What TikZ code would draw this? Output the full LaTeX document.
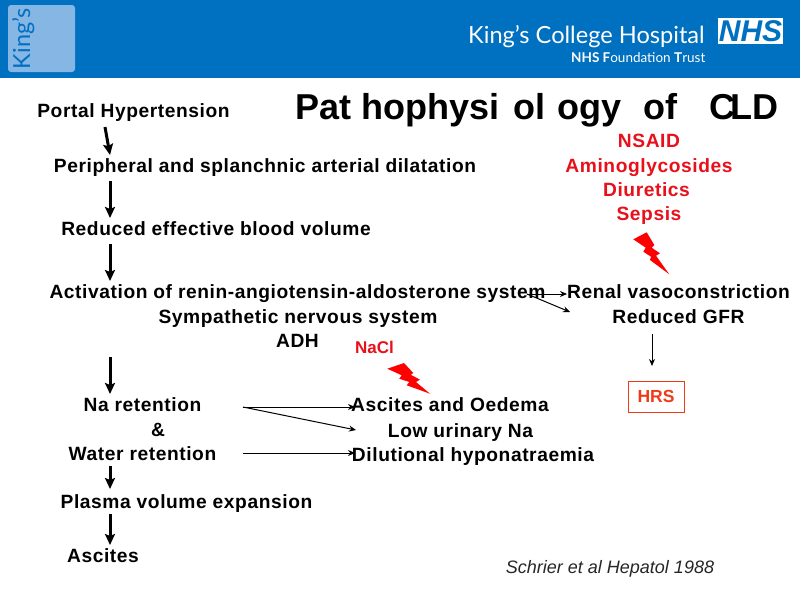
\documentclass[tikz,border=0pt]{standalone}
\usepackage{fontspec}
\setmainfont{Liberation Sans}
\newfontfamily\spaced[LetterSpace=3]{Liberation Sans}
\newfontfamily\logofont{Lato}
\definecolor{hdr}{HTML}{0070C0}
\definecolor{sq}{HTML}{85B6E4}
\definecolor{red1}{HTML}{E8101A}
\definecolor{orng}{HTML}{F03A17}
\tikzset{
  lbl/.style={anchor=base,inner sep=0pt,yshift=-.5pt,font=\spaced\bfseries\fontsize{19.2}{21}\selectfont,text=black},
  redlbl/.style={lbl,text=red1},
  big/.style={-{Stealth[length=11pt,width=10pt,inset=2pt]},line width=3pt,black},
  thin/.style={-{Stealth[length=7pt,width=6pt]},line width=1pt,black},
  bolt/.style={fill=red,draw=none},
}
\usetikzlibrary{arrows.meta}
\begin{document}
\begin{tikzpicture}[x=1pt,y=-1pt]
\useasboundingbox (0,0) rectangle (800,600);
\fill[white] (0,0) rectangle (800,600);
\fill[hdr] (0,0) rectangle (800,78);
\fill[sq,rounded corners=3pt] (8,5) rectangle (75,72);
\node[rotate=90,anchor=base,inner sep=0pt,text=hdr,font=\logofont\fontsize{23.5}{26}\selectfont] (kings) at (30,38.5) {King’s};
\node[anchor=base west,inner sep=0pt,text=white,font=\logofont\fontsize{23.6}{25}\selectfont] (kch) at (468,43) {King’s College Hospital};
\node[anchor=base west,inner sep=0pt,text=white,font=\logofont\fontsize{13.5}{15}\selectfont] (trust) at (571,62) {\textbf{NHS F}oundation \textbf{T}rust};
\node[fill=white,minimum width=65pt,minimum height=26pt,inner sep=0pt,text=hdr,font=\bfseries\itshape\fontsize{30}{30}\selectfont] (nhs) at (750.5,31) {NHS};

\node[anchor=base west,inner sep=0pt,font=\bfseries\fontsize{36}{38}\selectfont] (title) at (295,119.5)
 {Pat\kern10pt hophysi\kern14pt ol\kern12pt ogy\kern22pt of\kern32pt C\kern-5pt LD};

\node[lbl] (portal) at (133.5,117) {Portal Hypertension};
\node[lbl] (periph) at (265,172) {Peripheral and splanchnic arterial dilatation};
\node[lbl] (reduced) at (216,235) {Reduced effective blood volume};
\node[lbl] (activ) at (297.5,298) {Activation of renin-angiotensin-aldosterone system};
\node[lbl] (symp) at (298,323) {Sympathetic nervous system};
\node[lbl] (adh) at (297.5,347) {ADH};
\node[lbl] (na) at (142.5,411) {Na retention};
\node[lbl] (amp) at (158,436) {\&};
\node[lbl] (water) at (142.5,460) {Water retention};
\node[lbl] (plasma) at (186.5,508) {Plasma volume expansion};
\node[lbl] (asc) at (103,562) {Ascites};
\node[redlbl] (nsaid) at (649,147) {NSAID};
\node[redlbl] (amino) at (649,172) {Aminoglycosides};
\node[redlbl] (diur) at (646.5,196) {Diuretics};
\node[redlbl] (sepsis) at (649,220) {Sepsis};
\node[lbl] (renal) at (678.5,298) {Renal vasoconstriction};
\node[lbl] (gfr) at (678.5,323) {Reduced GFR};
\node[lbl,text=red1,font=\bfseries\fontsize{17}{19}\selectfont] (nacl) at (374.5,353) {NaCl};
\node[draw=orng,line width=.8pt,text=orng,minimum width=56pt,minimum height=31pt,inner sep=0pt,font=\bfseries\fontsize{17.5}{19}\selectfont] (hrs) at (656,396.5) {HRS};
\node[lbl] (oed) at (450,411) {Ascites and Oedema};
\node[lbl] (lowna) at (460.5,437) {Low urinary Na};
\node[lbl] (dil) at (473,461) {Dilutional hyponatraemia};
\node[anchor=base,inner sep=0pt,text=black!85,font=\itshape\fontsize{18}{20}\selectfont] (ref) at (610,573) {Schrier et al Hepatol 1988};

\coordinate (a1s) at (105,127); \coordinate (a1e) at (110,155);
\coordinate (a2s) at (110,181); \coordinate (a2e) at (110,218);
\coordinate (a3s) at (110,244); \coordinate (a3e) at (110,281);
\coordinate (a4s) at (110,357); \coordinate (a4e) at (110,394);
\coordinate (a5s) at (110,466); \coordinate (a5e) at (110,489);
\coordinate (a6s) at (110,514); \coordinate (a6e) at (110,545);
\draw[big] (a1s) -- (a1e);
\draw[big] (a2s) -- (a2e);
\draw[big] (a3s) -- (a3e);
\draw[big] (a4s) -- (a4e);
\draw[big] (a5s) -- (a5e);
\draw[big] (a6s) -- (a6e);

\coordinate (b0) at (527,294); \coordinate (b1) at (567,294); \coordinate (b2) at (570,312);
\draw[thin] (b0) -- (b1);
\draw[thin] (b0) -- (b2);
\coordinate (c0) at (652,334); \coordinate (c1) at (652,366);
\draw[thin] (c0) -- (c1);
\coordinate (d0) at (243,407); \coordinate (d1) at (355,407); \coordinate (d2) at (356,430);
\coordinate (e0) at (243,453); \coordinate (e1) at (355,453);
\draw[thin] (d0) -- (d1);
\draw[thin] (d0) -- (d2);
\draw[thin] (e0) -- (e1);

\fill[bolt] (633.3,239.3) -- (646.7,232.3) -- (654.3,245) -- (651.7,247.7) -- (660,253.3) -- (656,255.7) -- (669.3,274.3) -- (650,260) -- (651,256.7) -- (643.3,251.7) -- (645.7,247.7) -- cycle;
\fill[bolt] (387.3,368.7) -- (404,363) -- (413.3,373) -- (410.7,374.7) -- (420,379.7) -- (416,382) -- (430,393.7) -- (406.7,385.3) -- (409.3,382) -- (399.3,378.7) -- (401.7,375.3) -- cycle;
\end{tikzpicture}
\end{document}
